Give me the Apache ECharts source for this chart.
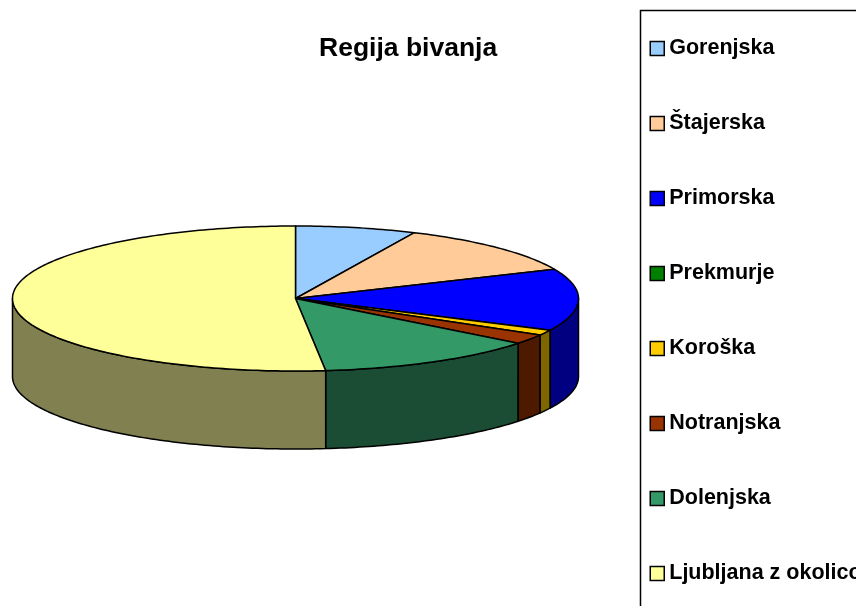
<!DOCTYPE html>
<html>
<head>
<meta charset="utf-8">
<style>html,body{margin:0;padding:0;background:#fff;overflow:hidden}#chart{width:856px;height:606px}</style>
<script src="https://cdn.jsdelivr.net/npm/echarts@6/dist/echarts.min.js"></script>
</head>
<body>
<div id="chart"></div>
<script>
var regions = ['Gorenjska','Štajerska','Primorska','Prekmurje','Koroška','Notranjska','Dolenjska','Ljubljana z okolico'];
var shares = [6.9,11.5,13.8,0,1.2,2.2,12.7,51.7];
var topColors = ['#99CCFF','#FFCC99','#0000FF','#008000','#FFCC00','#993300','#339966','#FFFF99'];
var wallColors = ['#4D6680','#80664D','#000080','#004000','#806600','#4D1A00','#1A4D33','#808050'];

var cx = 295.5, cy = 298.5, rx = 283, ry = 72.5, depth = 78;
var total = shares.reduce(function(a,b){return a+b;},0);

function rim(deg,dy){
    var a = deg*Math.PI/180;
    return [cx+rx*Math.sin(a), cy-ry*Math.cos(a)+(dy||0)];
}
function arc(from,to,dy){
    var pts = [], n = Math.max(1,Math.ceil(Math.abs(to-from)));
    for(var i=0;i<=n;i++){
        pts.push(rim(from+(to-from)*i/n,dy));
    }
    return pts;
}
function sliceItem(start,end,top,wall){
    var kids = [{
        type:'polygon',
        z2:2,
        shape:{points:[[cx,cy]].concat(arc(start,end))},
        style:{fill:top,stroke:'#000',lineWidth:1.5,lineJoin:'round'}
    }];
    // only the front half of the rim is visible
    var a = Math.max(start,90), b = Math.min(end,270);
    if(b>a){
        kids.push({
            type:'polygon',
            z2:1,
            shape:{points:arc(a,b).concat(arc(b,a,depth))},
            style:{fill:wall,stroke:'#000',lineWidth:1.5,lineJoin:'round'}
        });
    }
    return {type:'group',children:kids};
}

var series = [], used = 0;
regions.forEach(function(name,i){
    var start = used/total*360;
    used += shares[i];
    var end = used/total*360;
    series.push({
        type:'custom',
        name:name,
        coordinateSystem:'none',
        silent:true,
        animation:false,
        itemStyle:{color:topColors[i]},
        data:[shares[i]],
        renderItem:function(){
            return sliceItem(start,end,topColors[i],wallColors[i]);
        }
    });
});

var myChart = echarts.init(document.getElementById('chart'));
myChart.setOption({
    animation:false,
    title:{
        text:'Regija bivanja',
        left:319,
        top:35,
        padding:0,
        textStyle:{fontFamily:'Liberation Sans',fontSize:26.5,fontWeight:'bold',color:'#000'}
    },
    legend:{
        orient:'vertical',
        left:640.5,
        top:10.5,
        height:800,
        padding:[27,40,80,9],
        itemWidth:14,
        itemHeight:14,
        itemGap:53,
        icon:'rect',
        selectedMode:false,
        backgroundColor:'#fff',
        borderColor:'#000',
        borderWidth:1.5,
        itemStyle:{borderColor:'#000',borderWidth:1.5},
        textStyle:{fontFamily:'Liberation Sans',fontSize:21.5,fontWeight:'bold',color:'#000'},
        data:regions
    },
    series:series
});
</script>
</body>
</html>
